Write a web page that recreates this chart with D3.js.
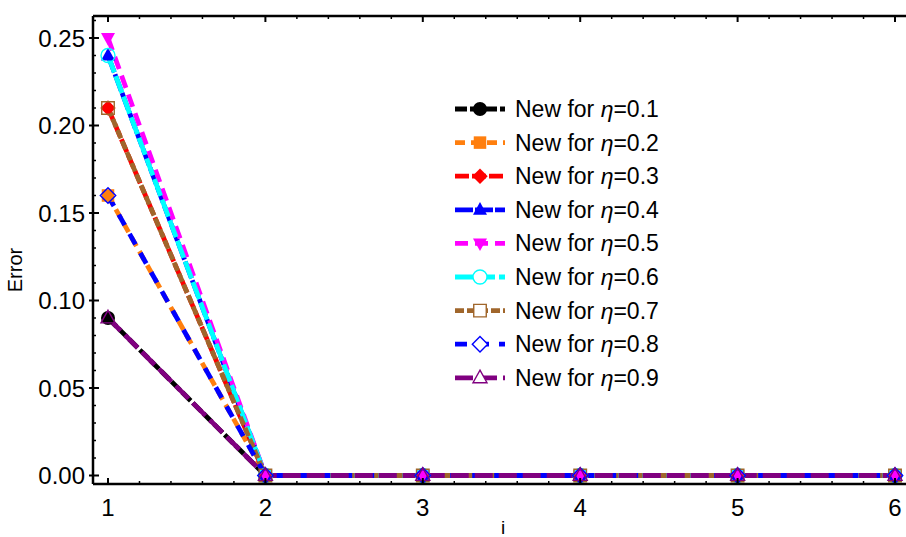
<!DOCTYPE html>
<html>
<head>
<meta charset="utf-8">
<script src="https://cdn.jsdelivr.net/npm/d3@7"></script>
<style>
  body { margin: 0; background: #fff; }
  text { font-family: "Liberation Sans", Arial, sans-serif; }
</style>
</head>
<body>
<div class="chart"></div>
<script>
var svgWidth = 906;
var svgHeight = 537;

// data
var iValues = [1, 2, 3, 4, 5, 6];
var etaLabels = ["0.1", "0.2", "0.3", "0.4", "0.5", "0.6", "0.7", "0.8", "0.9"];
var err01 = [0.09, 0, 0, 0, 0, 0];
var err02 = [0.16, 0, 0, 0, 0, 0];
var err03 = [0.21, 0, 0, 0, 0, 0];
var err04 = [0.24, 0, 0, 0, 0, 0];
var err05 = [0.25, 0, 0, 0, 0, 0];
var err06 = [0.24, 0, 0, 0, 0, 0];
var err07 = [0.21, 0, 0, 0, 0, 0];
var err08 = [0.16, 0, 0, 0, 0, 0];
var err09 = [0.09, 0, 0, 0, 0, 0];
var yTicks = [0, 0.05, 0.10, 0.15, 0.20, 0.25];
var xTicks = [1, 2, 3, 4, 5, 6];

var allErr = [err01, err02, err03, err04, err05, err06, err07, err08, err09];

// styling per series
var styles = [
  { color: "#000000", dash: "12,3", shape: "circle", fill: true },
  { color: "#ff7f0e", dash: "10,6", shape: "square", fill: true },
  { color: "#ff0000", dash: "14,3", shape: "diamond", fill: true },
  { color: "#0000ff", dash: "18,2", shape: "triUp", fill: true },
  { color: "#ff00ff", dash: "13,7", shape: "triDown", fill: true },
  { color: "#00ffff", dash: "18,4", shape: "circle", fill: false },
  { color: "#a0662b", dash: "9,3", shape: "square", fill: false },
  { color: "#0000ff", dash: "12,10", shape: "diamond", fill: false },
  { color: "#800080", dash: "18,6", shape: "triUp", fill: false }
];

var margin = { top: 16, right: 0, bottom: 53, left: 93 };
var width = svgWidth - margin.left - margin.right;
var height = svgHeight - margin.top - margin.bottom;

var svg = d3.select(".chart")
  .append("svg")
  .attr("width", svgWidth)
  .attr("height", svgHeight);

var chartGroup = svg.append("g")
  .attr("transform", `translate(${margin.left}, ${margin.top})`);

// x(1)=108, x(6)=895 in page pixels
var pxPerUnit = 157.4;
var xScale = d3.scaleLinear()
  .domain([1 - 15 / pxPerUnit, 6 + 11 / pxPerUnit])
  .range([0, width]);

// y(0)=475.5, y(0.25)=38
var pxPerY = 1750;
var yScale = d3.scaleLinear()
  .domain([-8.5 / pxPerY, 0.25 + 22 / pxPerY])
  .range([height, 0]);

chartGroup.append("clipPath").attr("id", "clip")
  .append("rect").attr("x", 0).attr("y", -10).attr("width", width).attr("height", height + 10);

function symbolPath(shape, r) {
  if (shape == "circle") return d3.symbol().type(d3.symbolCircle).size(Math.PI * r * r)();
  if (shape == "square") return d3.symbol().type(d3.symbolSquare).size(4 * r * r * 0.8)();
  if (shape == "diamond") return `M0,${-r * 1.1}L${r * 1.1},0L0,${r * 1.1}L${-r * 1.1},0Z`;
  if (shape == "triUp") return `M0,${-r * 1.1}L${r},${r * 0.7}L${-r},${r * 0.7}Z`;
  if (shape == "triDown") return `M0,${r * 1.1}L${r},${-r * 0.7}L${-r},${-r * 0.7}Z`;
}

var line = d3.line()
  .x((d, i) => xScale(iValues[i]))
  .y(d => yScale(d));

var plot = chartGroup.append("g").attr("clip-path", "url(#clip)");

allErr.forEach(function(series, k) {
  var st = styles[k];
  plot.append("path")
    .datum(series)
    .attr("d", line)
    .attr("fill", "none")
    .attr("stroke", st.color)
    .attr("stroke-width", 4.8)
    .attr("stroke-dasharray", st.dash);
});

allErr.forEach(function(series, k) {
  var st = styles[k];
  plot.selectAll(".m" + k)
    .data(series)
    .enter()
    .append("path")
    .attr("transform", (d, i) => `translate(${xScale(iValues[i])}, ${yScale(d)})`)
    .attr("d", symbolPath(st.shape, 7))
    .attr("fill", st.fill ? st.color : "none")
    .attr("stroke", st.color)
    .attr("stroke-width", st.fill ? 0 : 1.4);
});

// frame
var frame = chartGroup.append("g").attr("stroke", "#000");
frame.append("line").attr("x1", 0).attr("x2", width).attr("y1", height).attr("y2", height).attr("stroke-width", 2.5);
frame.append("line").attr("x1", 0).attr("x2", width).attr("y1", 0).attr("y2", 0).attr("stroke-width", 2.5);
frame.append("line").attr("x1", 0).attr("x2", 0).attr("y1", 0).attr("y2", height).attr("stroke-width", 2.5);

// x ticks (bottom and top)
var xMinor = d3.range(1, 6.01, 0.2).filter(v => Math.abs(v - Math.round(v)) > 0.01);
xMinor.forEach(function(v) {
  frame.append("line").attr("x1", xScale(v)).attr("x2", xScale(v)).attr("y1", height).attr("y2", height - 3).attr("stroke-width", 1.5);
  frame.append("line").attr("x1", xScale(v)).attr("x2", xScale(v)).attr("y1", 0).attr("y2", 3).attr("stroke-width", 1.5);
});
xTicks.forEach(function(v) {
  frame.append("line").attr("x1", xScale(v)).attr("x2", xScale(v)).attr("y1", height).attr("y2", height - 6).attr("stroke-width", 2);
  frame.append("line").attr("x1", xScale(v)).attr("x2", xScale(v)).attr("y1", 0).attr("y2", 6).attr("stroke-width", 2);
});

// y ticks
var yMinor = d3.range(0, 0.2601, 0.01).filter(v => Math.abs(v * 20 - Math.round(v * 20)) > 0.01);
yMinor.forEach(function(v) {
  frame.append("line").attr("x1", 0).attr("x2", 3).attr("y1", yScale(v)).attr("y2", yScale(v)).attr("stroke-width", 1.5);
});
yTicks.forEach(function(v) {
  frame.append("line").attr("x1", -4).attr("x2", 6).attr("y1", yScale(v)).attr("y2", yScale(v)).attr("stroke-width", 2);
});

chartGroup.selectAll(".xlab")
  .data(xTicks)
  .enter()
  .append("text")
  .attr("x", d => xScale(d))
  .attr("y", height + 32)
  .attr("text-anchor", "middle")
  .style("font-size", "24px")
  .text(d => d);

chartGroup.selectAll(".ylab")
  .data(yTicks)
  .enter()
  .append("text")
  .attr("x", -8)
  .attr("y", d => yScale(d) + 8.5)
  .attr("text-anchor", "end")
  .style("font-size", "24px")
  .text(d => d3.format(".2f")(d));

// axis titles
svg.append("text")
  .attr("x", 503)
  .attr("y", 534)
  .attr("text-anchor", "middle")
  .style("font-size", "19px")
  .text("i");

svg.append("text")
  .attr("transform", "translate(22, 270) rotate(-90)")
  .attr("text-anchor", "middle")
  .style("font-size", "20px")
  .text("Error");

// legend
var legend = svg.append("g").attr("transform", "translate(455, 109)");
var rowGap = 33.6;
etaLabels.forEach(function(lab, k) {
  var st = styles[k];
  var row = legend.append("g").attr("transform", `translate(0, ${k * rowGap})`);
  row.append("line")
    .attr("x1", 0).attr("x2", 50).attr("y1", 0).attr("y2", 0)
    .attr("stroke", st.color)
    .attr("stroke-width", 4.8)
    .attr("stroke-dasharray", st.dash);
  row.append("path")
    .attr("transform", "translate(25, 0)")
    .attr("d", symbolPath(st.shape, 7))
    .attr("fill", st.fill ? st.color : "#fff")
    .attr("stroke", st.color)
    .attr("stroke-width", st.fill ? 0 : 1.4);
  var t = row.append("text")
    .attr("x", 60)
    .attr("y", 8)
    .style("font-size", "23px");
  t.append("tspan").text("New for ");
  t.append("tspan").style("font-style", "italic").text("\u03b7");
  t.append("tspan").text("=" + lab);
});
</script>
</body>
</html>
